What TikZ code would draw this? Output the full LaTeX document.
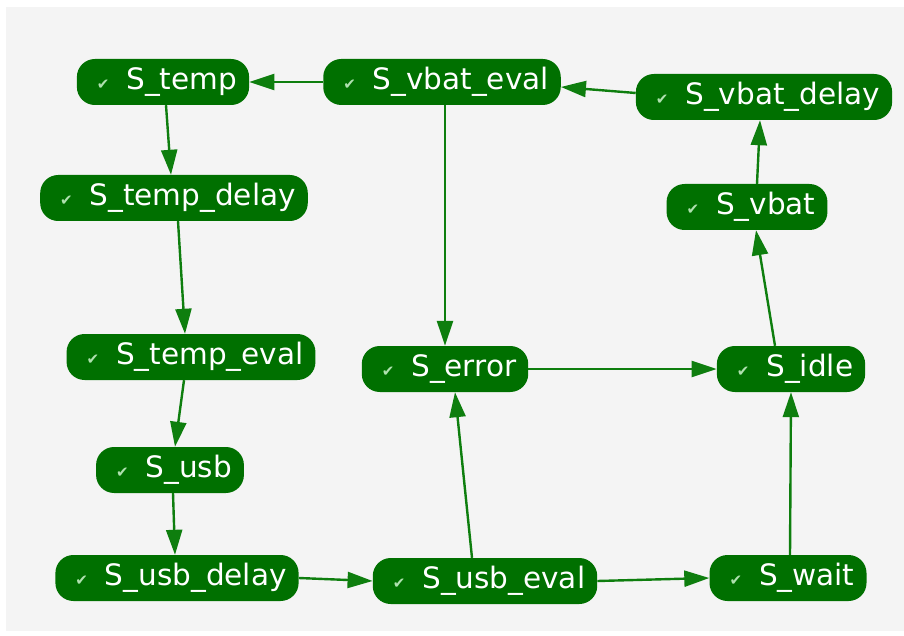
\documentclass[tikz,border=0pt]{standalone}
\usepackage{fontspec}
\usetikzlibrary{arrows.meta}
\newfontfamily\dvs{DejaVu Sans}
\definecolor{nodegreen}{RGB}{0,112,0}
\definecolor{edgegreen}{RGB}{14,126,14}
\definecolor{chkgreen}{RGB}{175,225,175}
\definecolor{bggray}{RGB}{244,244,244}
\newcommand{\stlabel}[1]{\hspace*{20pt}{\fontsize{15pt}{15pt}\selectfont\color{chkgreen}✔}\hspace{17pt}#1\hspace*{12pt}}
\tikzset{
  stnode/.style={fill=nodegreen, rounded corners=18pt, minimum height=46pt,
    inner xsep=0pt, inner ysep=0pt, text=white,
    font=\dvs\fontsize{29.5pt}{34pt}\selectfont},
  tr/.style={draw=edgegreen, line width=2.4pt, -{Triangle[length=25pt,width=16pt]}}
}
\begin{document}
\begin{tikzpicture}[x=1pt,y=-1pt]
\useasboundingbox (0,0) rectangle (904,636);
\fill[white] (0,0) rectangle (904,636);
\fill[bggray] (6,7) rectangle (904,631);

\node[stnode] (temp) at (163,82) {\stlabel{S\_temp}};
\node[stnode] (vbateval) at (442,82) {\stlabel{S\_vbat\_eval}};
\node[stnode] (vbatdelay) at (764,97) {\stlabel{S\_vbat\_delay}};
\node[stnode] (tempdelay) at (174,198) {\stlabel{S\_temp\_delay}};
\node[stnode] (vbat) at (747,207) {\stlabel{S\_vbat}};
\node[stnode] (tempeval) at (191,357) {\stlabel{S\_temp\_eval}};
\node[stnode] (error) at (445,369) {\stlabel{S\_error}};
\node[stnode] (idle) at (791,369) {\stlabel{S\_idle}};
\node[stnode] (usb) at (170,470) {\stlabel{S\_usb}};
\node[stnode] (usbdelay) at (177,578) {\stlabel{S\_usb\_delay}};
\node[stnode] (usbeval) at (485,581) {\stlabel{S\_usb\_eval}};
\node[stnode] (wait) at (788,578) {\stlabel{S\_wait}};

\draw[tr] (vbateval.west) -- (temp.east);
\draw[tr] ([xshift=3pt]temp.south) -- ([xshift=-3pt]tempdelay.north);
\draw[tr] ([xshift=4pt]tempdelay.south) -- ([xshift=-6pt]tempeval.north);
\draw[tr] ([xshift=-7pt]tempeval.south) -- ([xshift=5pt]usb.north);
\draw[tr] ([xshift=3pt]usb.south) -- ([xshift=-2pt]usbdelay.north);
\draw[tr] (usbdelay.east) -- (usbeval.west);
\draw[tr] (usbeval.east) -- (wait.west);
\draw[tr] ([xshift=-13pt]usbeval.north) -- ([xshift=10pt]error.south);
\draw[tr] ([xshift=2pt]wait.north) -- (idle.south);
\draw[tr] (error.east) -- (idle.west);
\draw[tr] ([xshift=-16pt]idle.north) -- ([xshift=9pt]vbat.south);
\draw[tr] ([xshift=10pt]vbat.north) -- ([xshift=-4pt]vbatdelay.south);
\draw[tr] ([yshift=4pt]vbatdelay.west) -- ([yshift=-5pt]vbateval.east);
\draw[tr] ([xshift=3pt]vbateval.south) -- (error.north);
\end{tikzpicture}
\end{document}
